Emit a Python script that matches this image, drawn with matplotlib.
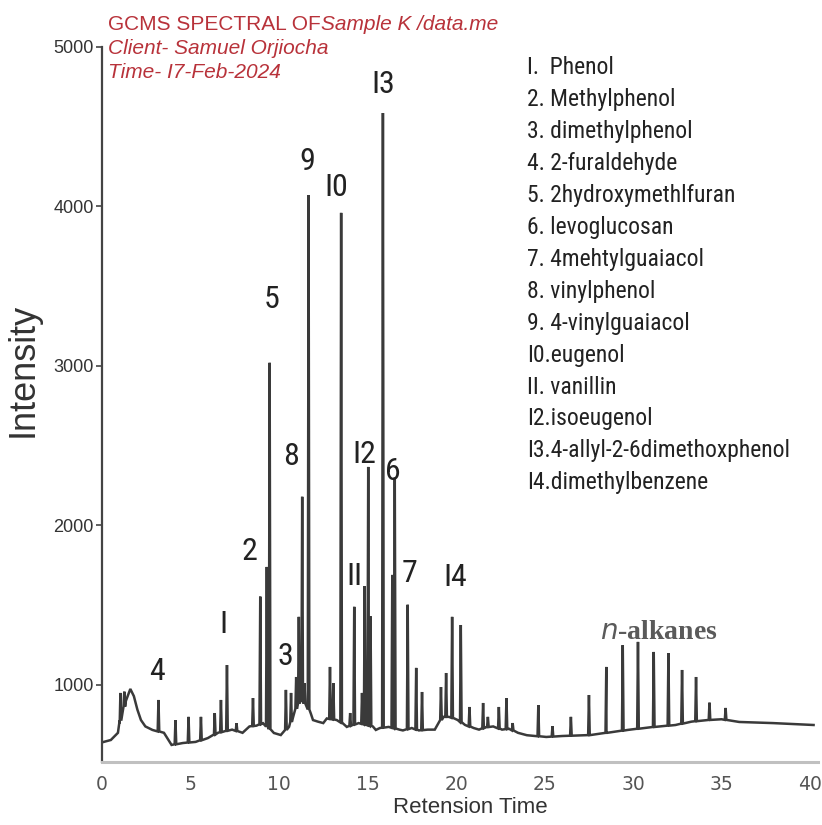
import numpy as np
import matplotlib
matplotlib.use("Agg")
import matplotlib.pyplot as plt
from matplotlib import font_manager

# ---------------- data ----------------
baseline_rt = [0.0, 0.5, 0.9, 1.0, 1.15, 1.35, 1.6, 1.8, 2.0, 2.2, 2.45, 2.85, 3.5, 3.93,
               4.57, 5.29, 5.98, 6.55, 7.35, 7.94, 8.33, 8.73, 9.1, 9.71, 10.1, 10.57,
               10.8, 11.0, 11.2, 11.5, 11.8, 11.92, 12.2, 12.5, 12.7, 13.26, 13.6, 13.83,
               14.5, 15.3, 15.47, 15.7, 16.2, 16.8, 17.0, 17.5, 17.9, 18.4, 18.8, 19.0,
               19.3, 19.6, 19.9, 20.1, 20.5, 21.0, 21.3, 21.7, 22.1, 22.6, 23.0, 23.5,
               24.0, 25.1, 26.0, 27.6, 28.5, 29.7, 31.0, 32.4, 33.3, 34.2, 35.0, 36.0,
               37.9, 40.2]
baseline_int = [640, 655, 700, 760, 820, 900, 975, 930, 845, 780, 740, 718, 700, 624,
                636, 643, 667, 700, 720, 700, 740, 745, 760, 699, 686, 738,
                800, 860, 900, 880, 820, 780, 770, 761, 790, 780, 760, 737,
                761, 740, 718, 730, 737, 720, 715, 730, 715, 720, 720, 760,
                800, 800, 790, 780, 750, 730, 720, 735, 740, 720, 725, 700,
                685, 674, 680, 686, 700, 718, 735, 749, 770, 780, 785, 768,
                761, 749]

peak_rt = [1.04, 1.26, 3.19, 4.15, 4.89, 5.59, 6.37, 6.72, 7.06, 7.6, 8.53, 8.94, 9.31,
           9.47, 10.39, 10.68, 10.97, 11.12, 11.22, 11.31, 11.44, 11.67, 12.88, 13.07,
           13.51, 14.02, 14.25, 14.69, 14.84, 15.04, 15.17, 15.87, 16.4, 16.54, 17.27,
           17.75, 18.08, 19.15, 19.44, 19.78, 20.27, 20.76, 21.53, 21.8, 22.42, 22.85,
           23.2, 24.65, 25.45, 26.49, 27.51, 28.49, 29.42, 30.28, 31.17, 32.0, 32.77,
           33.56, 34.32, 35.23]
peak_int = [950, 958, 906, 780, 800, 800, 824, 906, 1125, 760, 918, 1554, 1740,
            3020, 969, 950, 1050, 1427, 1100, 2180, 1012, 4072, 1113, 1012,
            3960, 824, 1490, 950, 1620, 2367, 1430, 4586, 1690, 2300, 1503,
            1107, 956, 987, 1075, 1427, 1376, 862, 887, 800, 862, 918,
            761, 874, 742, 800, 937, 1113, 1250, 1270, 1207, 1200, 1094,
            1050, 889, 856]

label_text = ["4", "I", "2", "3", "5", "8", "9", "I0", "II", "I2", "I3", "6", "7", "I4"]
label_rt = [3.08, 6.88, 8.32, 10.35, 9.59, 10.69, 11.61, 13.22, 14.25, 14.83, 15.87,
            16.45, 17.38, 19.94]
label_int = [1082, 1382, 1834, 1176, 3414, 2430, 4280, 4116, 1677, 2442, 4762,
             2336, 1702, 1671]

compounds = ["I.  Phenol", "2. Methylphenol", "3. dimethylphenol", "4. 2-furaldehyde",
             "5. 2hydroxymethlfuran", "6. levoglucosan", "7. 4mehtylguaiacol",
             "8. vinylphenol", "9. 4-vinylguaiacol", "I0.eugenol", "II. vanillin",
             "I2.isoeugenol", "I3.4-allyl-2-6dimethoxphenol", "I4.dimethylbenzene"]

x_ticks = [0, 5, 10, 15, 20, 25, 30, 35, 40]
y_ticks = [1000, 2000, 3000, 4000, 5000]

# ---------------- fonts ----------------
available = {f.name for f in font_manager.fontManager.ttflist}
narrow_candidates = ["Roboto Condensed", "Liberation Sans Narrow", "Open Sans Condensed",
                     "DejaVu Sans Condensed"]
narrow_name = next((n for n in narrow_candidates if n in available), None)
if narrow_name:
    narrow = [narrow_name, "Liberation Sans"]
    list_size, label_size = 17, 23
else:
    narrow = ["Liberation Sans", "DejaVu Sans"]
    list_size, label_size = 14.5, 19
sans = ["Liberation Sans", "DejaVu Sans"]

# ---------------- build the trace ----------------
half_w = 0.045
pts = list(zip(baseline_rt, baseline_int))
for rt, h in zip(peak_rt, peak_int):
    foot = float(np.interp(rt, baseline_rt, baseline_int))
    pts += [(rt - half_w, foot), (rt, h), (rt + half_w, foot)]
pts.sort(key=lambda p: p[0])
trace_x = [p[0] for p in pts]
trace_y = [p[1] for p in pts]

# ---------------- figure ----------------
W, H = 822, 825
fig = plt.figure(figsize=(W / 100, H / 100), dpi=100)
fig.patch.set_facecolor("white")
ax = fig.add_axes([102 / W, 1 - 762 / H, 716 / W, (762 - 47) / H])
ax.plot(trace_x, trace_y, color="#3a3a3a", lw=1.8, solid_joinstyle="miter")
ax.set_xlim(0, 40.45)
ax.set_ylim(517, 5000)

for s in ["top", "right"]:
    ax.spines[s].set_visible(False)
ax.spines["left"].set_color("#444444")
ax.spines["left"].set_linewidth(1.6)
ax.spines["bottom"].set_color("#c0c0c0")
ax.spines["bottom"].set_linewidth(2.2)

ax.set_xticks(x_ticks)
ax.set_yticks(y_ticks)
ax.tick_params(axis="x", length=0, pad=9, labelsize=13.5, labelcolor="#555555")
ax.tick_params(axis="y", length=4, width=1.2, color="#444444", pad=2,
               labelsize=13, labelcolor="#333333")
for t in ax.get_yticklabels():
    t.set_family(sans)

ax.set_xlabel("Retension Time", fontsize=16, color="#333333", family=sans)
ax.xaxis.set_label_coords((470 - 102) / 716, -(35 / 715))
ax.set_ylabel("Intensity", fontsize=26, color="#333333", family=sans)
ax.yaxis.set_label_coords((41 - 102) / 716, (762 - 370) / 715)

for txt, rx, ry in zip(label_text, label_rt, label_int):
    ax.text(rx, ry, txt, ha="center", va="center", fontsize=label_size, color="#222222",
            family=narrow)

ax.text(31.44, 1332, "$n$-alkanes", ha="center", va="center", fontsize=20,
        color="#5a5a5a", family=["Liberation Serif", "DejaVu Serif"], fontweight="bold")

# compound list
for i, line in enumerate(compounds):
    yc = 68 + 31.9 * i
    fig.text(527 / W, 1 - yc / H, line, ha="left", va="center", fontsize=list_size,
             color="#222222", family=narrow)

# title block
red = "#b8323a"
t1 = fig.text(108 / W, 1 - 25 / H, "GCMS SPECTRAL OF", ha="left", va="center",
              fontsize=15, color=red, family=sans)
fig.canvas.draw()
ax.annotate("Sample K /data.me", xy=(1, 0.5), xycoords=t1, ha="left", va="center",
            fontsize=15, color=red, style="italic", family=sans, annotation_clip=False)
fig.text(108 / W, 1 - 49 / H, "Client- Samuel Orjiocha", ha="left", va="center",
         fontsize=15, color=red, style="italic", family=sans)
fig.text(108 / W, 1 - 72 / H, "Time- I7-Feb-2024", ha="left", va="center",
         fontsize=15, color=red, style="italic", family=sans)

fig.savefig("out.png", dpi=100, facecolor="white")
